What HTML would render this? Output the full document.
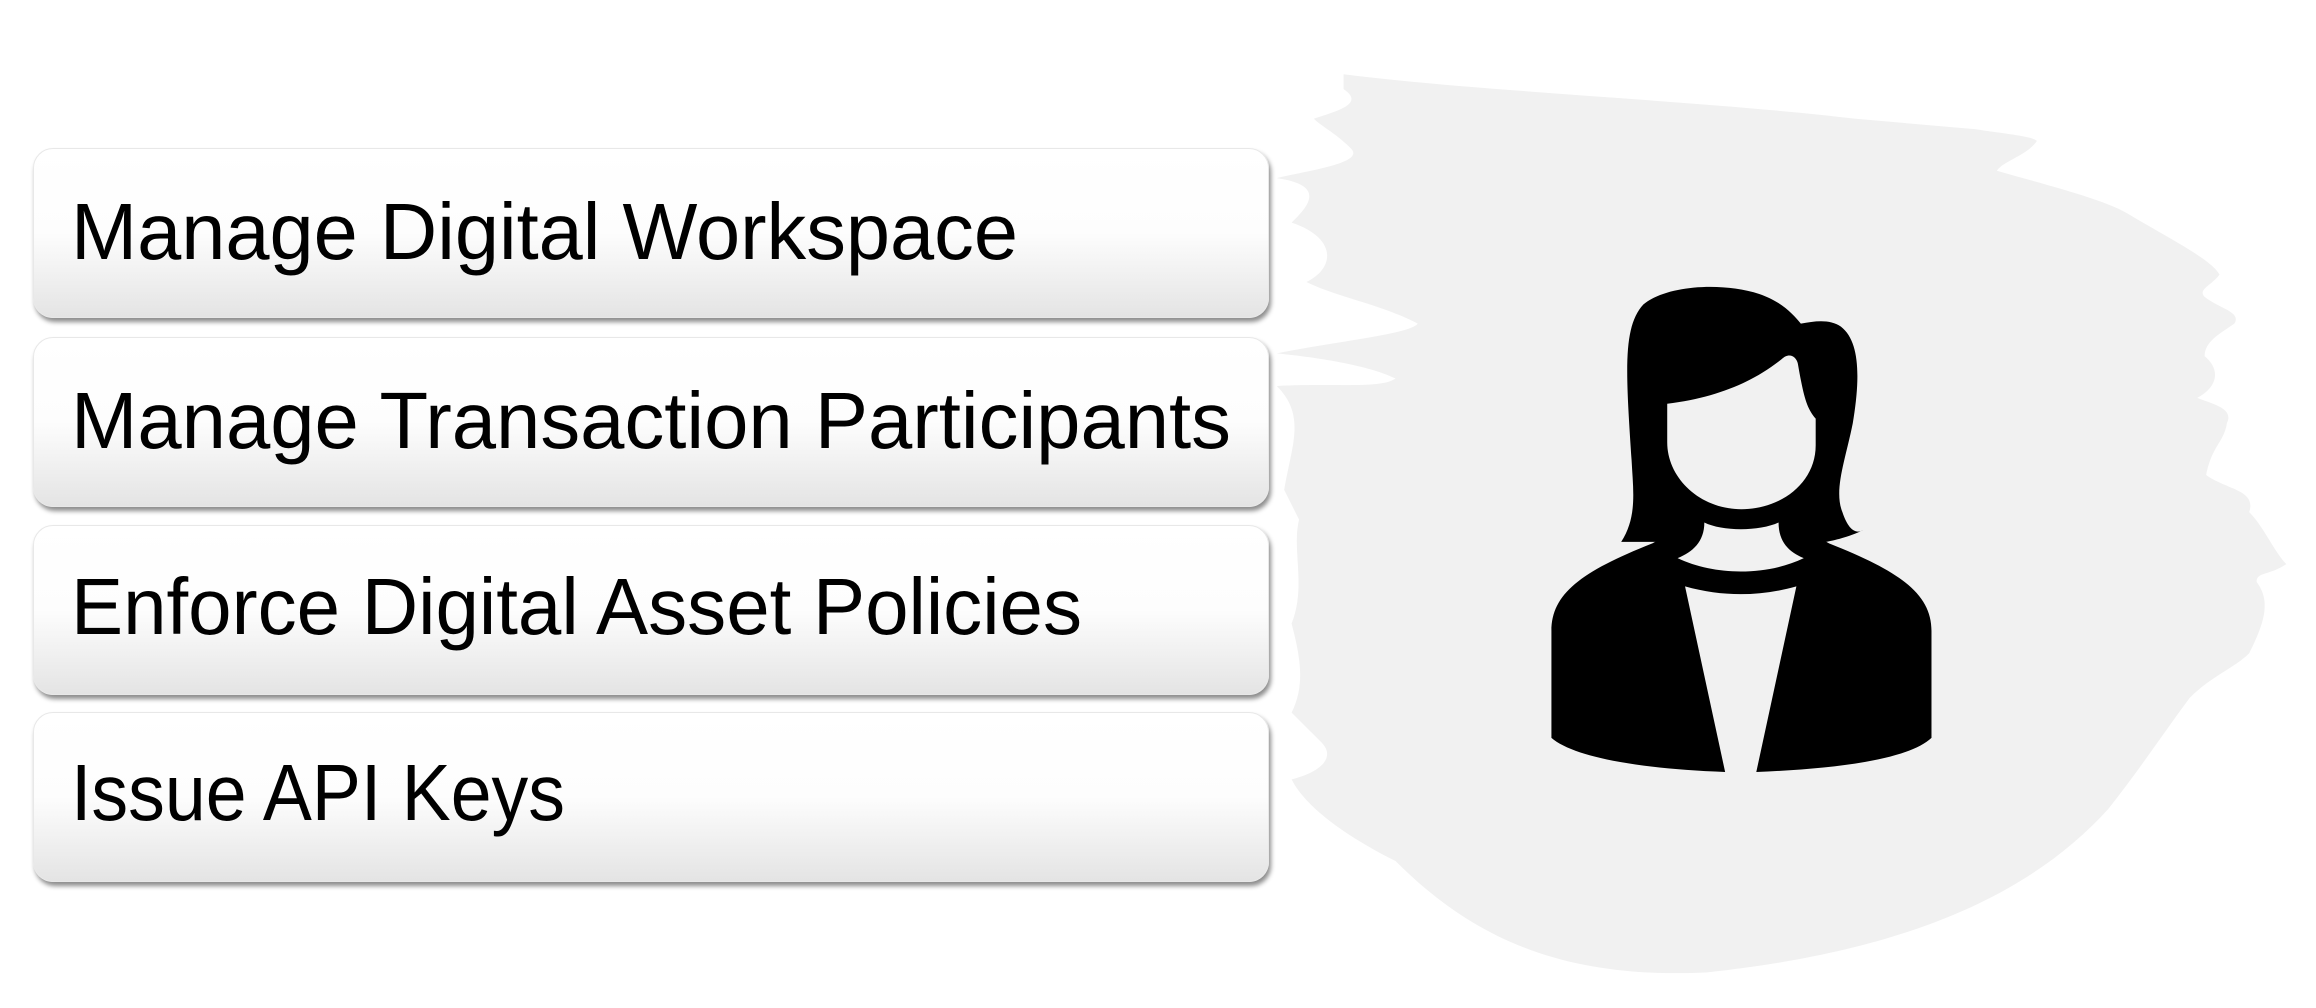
<!DOCTYPE html>
<html><head><meta charset="utf-8"><style>
html,body{margin:0;padding:0;background:#fff;}
body{width:2316px;height:1008px;position:relative;overflow:hidden;font-family:"Liberation Sans",sans-serif;}
svg.bg{position:absolute;left:0;top:0;}
.box{position:absolute;left:33px;width:1236px;height:170px;border-radius:20px;
background:linear-gradient(#ffffff 0%,#fdfdfd 50%,#e4e4e4 100%);
box-shadow:2px 4px 5px rgba(0,0,0,0.45);border:1px solid #e8e8e8;box-sizing:border-box;}
.box svg{position:absolute;left:0;top:0;}
</style></head><body>
<svg class="bg" width="2316" height="1008" viewBox="0 0 1560 679" preserveAspectRatio="none">
<path fill="#f1f1f1" d="M905,50 C1000,62 1150,68 1250,80 L1330,87 C1350,90 1370,92 1372,95 C1365,105 1350,108 1345,115 C1380,125 1420,135 1435,145 C1460,160 1490,175 1495,185 C1490,192 1480,195 1485,200 C1495,208 1510,210 1505,218 C1495,225 1485,230 1485,240 C1495,248 1495,260 1480,268 C1490,272 1505,275 1500,285 C1498,298 1490,300 1486,320 C1500,330 1520,330 1515,345 C1525,355 1532,372 1540,380 C1528,388 1520,385 1520,392 C1530,405 1525,420 1515,440 C1505,450 1490,455 1475,470 C1460,490 1440,520 1420,545 C1370,600 1290,640 1150,655 C1050,660 990,630 940,580 C910,565 880,545 870,525 C890,520 900,510 890,500 L870,480 C880,460 875,440 870,420 C880,395 870,370 875,350 L865,330 C870,300 880,280 860,260 C900,258 930,262 940,255 C920,245 880,240 860,238 C900,230 950,225 955,218 C930,205 900,200 880,190 C900,180 900,160 870,150 C880,140 895,125 860,120 C880,115 920,110 910,100 C900,90 890,85 885,80 C900,75 920,70 905,60 Z"/>
<g transform="translate(-5,0)">
<path fill="#000" d="M1097,365 C1108,348 1105,330 1104,310 C1100,250 1098,220 1112,205 C1128,192 1165,190 1190,198 C1205,203 1213,212 1218,218 C1228,216 1238,215 1245,220 C1258,230 1258,255 1253,285 C1248,310 1240,330 1246,345 C1250,357 1255,360 1260,357 C1250,362 1240,364 1235,365 Z"/>
<path fill="#000" d="M1050,497 L1050,425 C1050,400 1070,385 1118,366 L1150,348 L1205,348 L1237,366 C1285,385 1306,400 1306,425 L1306,497 C1290,512 1240,518 1188,520 L1167,520 C1110,518 1065,510 1050,497 Z"/>
<path fill="#f1f1f1" d="M1128,272 C1160,268 1185,258 1205,242 C1210,237 1215,240 1216,245 C1220,268 1222,275 1228,282 L1228,300 C1228,325 1205,343 1178,343 C1150,343 1128,322 1128,298 Z"/>
<path fill="#f1f1f1" d="M1153,352 C1165,358 1190,358 1203,352 C1203,365 1210,372 1220,376 C1195,388 1160,388 1135,376 C1145,372 1153,365 1153,352 Z"/>
<path fill="#f1f1f1" d="M1140,395 C1165,402 1190,402 1215,395 L1188,520 L1167,520 Z"/>
</g>
</svg>
<div class="box" style="top:148px"><svg width="1236" height="170"><text x="37" y="110" font-size="80" font-family="Liberation Sans, sans-serif" fill="#000" textLength="947" lengthAdjust="spacingAndGlyphs">Manage Digital Workspace</text></svg></div>
<div class="box" style="top:337px"><svg width="1236" height="170"><text x="37" y="110" font-size="80" font-family="Liberation Sans, sans-serif" fill="#000" textLength="1160" lengthAdjust="spacingAndGlyphs">Manage Transaction Participants</text></svg></div>
<div class="box" style="top:525px"><svg width="1236" height="170"><text x="37" y="108" font-size="80" font-family="Liberation Sans, sans-serif" fill="#000" textLength="1011" lengthAdjust="spacingAndGlyphs">Enforce Digital Asset Policies</text></svg></div>
<div class="box" style="top:712px"><svg width="1236" height="170"><text x="37" y="107" font-size="80" font-family="Liberation Sans, sans-serif" fill="#000" textLength="494" lengthAdjust="spacingAndGlyphs">Issue API Keys</text></svg></div>
</body></html>
